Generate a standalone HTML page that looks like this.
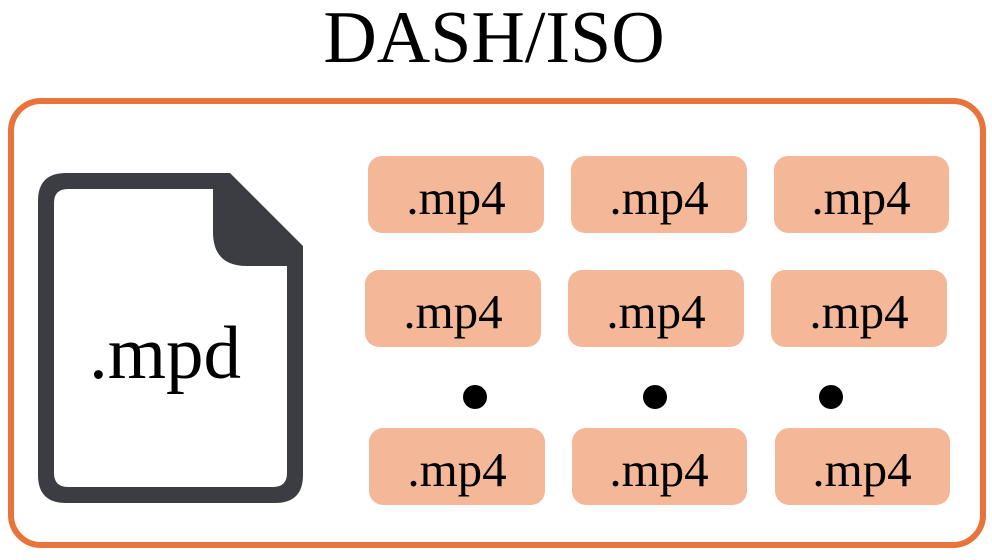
<!DOCTYPE html>
<html><head><meta charset="utf-8"><style>
html,body{margin:0;padding:0;background:#fff;width:992px;height:560px;overflow:hidden}
svg{display:block}
text{font-family:"Liberation Serif",serif;fill:#000}
</style></head><body>
<svg width="992" height="560" viewBox="0 0 992 560">
<text x="494" y="62" font-size="74" text-anchor="middle">DASH/ISO</text>
<rect x="11" y="101" width="972" height="444" rx="30" fill="none" stroke="#E8743B" stroke-width="6"/>
<g>
<path d="M66 173 H230 L303 246 V475 Q303 503 275 503 H66 Q38 503 38 475 V201 Q38 173 66 173 Z" fill="#3b3d42"/>
<path d="M68 189 H213 V232 Q213 266 247 266 H287 V473 Q287 487 273 487 H68 Q54 487 54 473 V203 Q54 189 68 189 Z" fill="#fff"/>
<text x="165" y="378" font-size="75" text-anchor="middle">.mpd</text>
</g>
<g>
<g><rect x="368" y="156" width="176" height="77" rx="14" fill="#F4B899"/><text x="456" y="214" font-size="49" text-anchor="middle">.mp4</text></g>
<g><rect x="571" y="156" width="176" height="77" rx="14" fill="#F4B899"/><text x="659" y="214" font-size="49" text-anchor="middle">.mp4</text></g>
<g><rect x="774" y="156" width="175" height="77" rx="14" fill="#F4B899"/><text x="861" y="214" font-size="49" text-anchor="middle">.mp4</text></g>
<g><rect x="365" y="270" width="176" height="77" rx="14" fill="#F4B899"/><text x="453" y="328" font-size="49" text-anchor="middle">.mp4</text></g>
<g><rect x="568" y="270" width="176" height="77" rx="14" fill="#F4B899"/><text x="656" y="328" font-size="49" text-anchor="middle">.mp4</text></g>
<g><rect x="771" y="270" width="176" height="77" rx="14" fill="#F4B899"/><text x="859" y="328" font-size="49" text-anchor="middle">.mp4</text></g>
<g><rect x="369" y="428" width="176" height="77" rx="14" fill="#F4B899"/><text x="457" y="486" font-size="49" text-anchor="middle">.mp4</text></g>
<g><rect x="572" y="428" width="175" height="77" rx="14" fill="#F4B899"/><text x="659" y="486" font-size="49" text-anchor="middle">.mp4</text></g>
<g><rect x="775" y="428" width="175" height="77" rx="14" fill="#F4B899"/><text x="862" y="486" font-size="49" text-anchor="middle">.mp4</text></g>
</g>
<g>
<circle cx="475" cy="397" r="12" fill="#000"/>
<circle cx="655" cy="397" r="12" fill="#000"/>
<circle cx="831" cy="397" r="12" fill="#000"/>
</g>
</svg>
</body></html>
